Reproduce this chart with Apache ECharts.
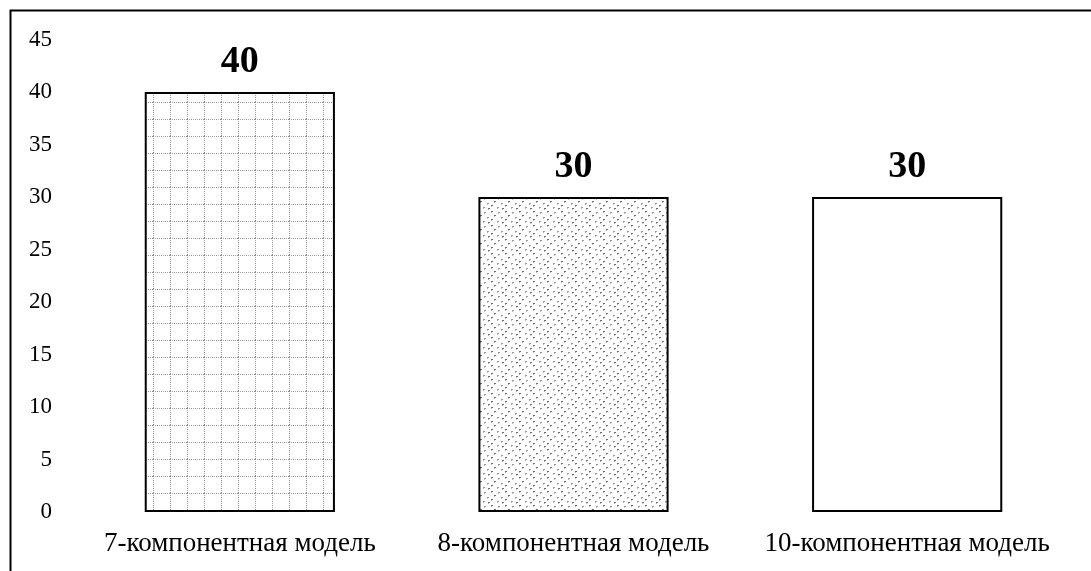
<!DOCTYPE html>
<html>
<head>
<meta charset="utf-8">
<script src="https://cdn.jsdelivr.net/npm/echarts@6/dist/echarts.min.js"></script>
<style>
  html, body { margin: 0; padding: 0; background: #fff; }
  #chart { width: 1091px; height: 571px; }
</style>
</head>
<body>
<div id="chart"></div>
<script>
// Model variants and their scores
const categories = ['7-компонентная модель', '8-компонентная модель', '10-компонентная модель'];
const values = [40, 30, 30];
const yTicks = [0, 5, 10, 15, 20, 25, 30, 35, 40, 45];

// Dotted grid fill: 17px cells outlined by dotted gray lines
function gridPattern() {
  const c = document.createElement('canvas');
  c.width = 17; c.height = 17;
  const g = c.getContext('2d');
  g.fillStyle = '#fff';
  g.fillRect(0, 0, 17, 17);
  for (let i = 0; i < 17; i += 2) {
    g.fillStyle = i % 4 ? '#a8a8a8' : '#8c8c8c';
    g.fillRect(i, 0, 1, 1);
    g.fillRect(0, i, 1, 1);
  }
  return c;
}

// Stippled fill: scattered small gray dots
function dotPattern() {
  const c = document.createElement('canvas');
  c.width = 14; c.height = 14;
  const g = c.getContext('2d');
  g.fillStyle = '#fff';
  g.fillRect(0, 0, 14, 14);
  const dots = [[1, 1], [8, 2], [4, 5], [11, 7], [1, 9], [7, 11], [12, 12]];
  dots.forEach(([x, y], i) => {
    g.fillStyle = i % 2 ? '#9a9a9a' : '#6e6e6e';
    g.fillRect(x, y, 2, 1);
    g.fillStyle = '#b8b8b8';
    g.fillRect(x, y + 1, 1, 1);
  });
  return c;
}

const fills = [
  { image: gridPattern(), repeat: 'repeat' },
  { image: dotPattern(), repeat: 'repeat' },
  '#ffffff'
];

const chart = echarts.init(document.getElementById('chart'), null, { renderer: 'canvas' });

chart.setOption({
  backgroundColor: '#fff',
  animation: false,
  textStyle: { fontFamily: 'Liberation Serif' },
  graphic: [{
    type: 'rect',
    shape: { x: 10.5, y: 10.5, width: 1200, height: 1000 },
    style: { fill: 'none', stroke: '#000', lineWidth: 2 },
    silent: true
  }],
  grid: { left: 73, right: 17, top: 39.5, bottom: 59, containLabel: false },
  xAxis: {
    type: 'category',
    data: categories,
    axisLine: { show: false },
    axisTick: { show: false },
    axisLabel: {
      interval: 0,
      hideOverlap: false,
      color: '#000',
      fontSize: 27,
      fontFamily: 'Liberation Serif',
      margin: 18
    }
  },
  yAxis: {
    type: 'value',
    min: yTicks[0],
    max: yTicks[yTicks.length - 1],
    interval: 5,
    axisLine: { show: false },
    axisTick: { show: false },
    splitLine: { show: false },
    axisLabel: {
      color: '#000',
      fontSize: 23,
      fontFamily: 'Liberation Serif',
      margin: 21
    }
  },
  series: [{
    type: 'bar',
    barWidth: '57%',
    data: values.map((v, i) => ({
      value: v,
      itemStyle: { color: fills[i] }
    })),
    itemStyle: { borderColor: '#000', borderWidth: 2 },
    label: {
      show: true,
      position: 'top',
      distance: 11,
      color: '#000',
      fontSize: 38,
      fontWeight: 'bold',
      fontFamily: 'Liberation Serif'
    }
  }]
});
</script>
</body>
</html>
